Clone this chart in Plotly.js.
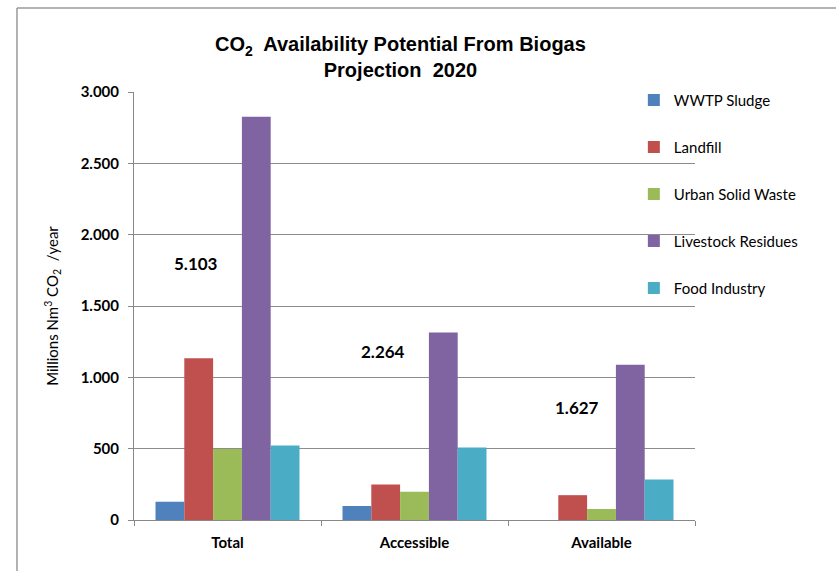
<!DOCTYPE html>
<html>
<head>
<meta charset="utf-8">
<script src="https://cdn.plot.ly/plotly-3.0.1.min.js"></script>
<style>html,body{margin:0;padding:0;background:#fff;}#chart{width:836px;height:571px;}</style>
</head>
<body>
<div id="chart"></div>
<script>
const categories = ["Total", "Accessible", "Available"];
const seriesNames = ["WWTP Sludge", "Landfill", "Urban Solid Waste", "Livestock Residues", "Food Industry"];
const wwtpSludge = [128, 98, 0];
const landfill = [1133, 248, 174];
const urbanSolidWaste = [497, 198, 77];
const livestockResidues = [2826, 1315, 1089];
const foodIndustry = [523, 509, 284];
const totalLabels = ["5.103", "2.264", "1.627"];
const yTickValues = [0, 500, 1000, 1500, 2000, 2500, 3000];
const yTickLabels = ["0", "500", "1.000", "1.500", "2.000", "2.500", "3.000"];

const seriesValues = [wwtpSludge, landfill, urbanSolidWaste, livestockResidues, foodIndustry];
const colors = ["#4F81BD", "#C0504D", "#9BBB59", "#8064A2", "#4BACC6"];

const traces = seriesNames.map((name, i) => ({
  type: "bar",
  name: name,
  x: categories,
  y: seriesValues[i],
  legendgroup: "g" + i,
  marker: {color: colors[i], line: {width: 0}},
  hoverinfo: "name+y"
}));

// total label placement (x as category index offset, y in data units)
const labelX = [-0.17, 0.83, 1.87];
const labelY = [1800, 1180, 790];

const layout = {
  width: 836,
  height: 571,
  paper_bgcolor: "#ffffff",
  plot_bgcolor: "#ffffff",
  margin: {l: 134, r: 141, t: 92, b: 51},
  barmode: "group",
  bargap: 0.23,
  bargroupgap: 0,
  font: {family: "Lato, 'Liberation Sans', sans-serif", color: "#000"},
  title: {
    text: "CO<sub>2</sub>  Availability Potential From Biogas<br>Projection  2020",
    font: {family: "'Liberation Sans', Arial, sans-serif", size: 20, color: "#000", weight: "bold"},
    x: 0.479, xanchor: "center",
    y: 0.91, yanchor: "top"
  },
  xaxis: {
    type: "category",
    tickson: "boundaries",
    ticks: "outside",
    ticklen: 5,
    tickcolor: "#888",
    showline: true,
    linecolor: "#888",
    linewidth: 1,
    showgrid: false,
    tickfont: {family: "Lato, sans-serif", size: 15, color: "#000", weight: "bold"},
    ticklabelstandoff: 9,
    fixedrange: true
  },
  yaxis: {
    range: [0, 3000],
    tickvals: yTickValues,
    ticktext: yTickLabels,
    ticks: "outside",
    ticklen: 5,
    tickcolor: "#888",
    showline: true,
    linecolor: "#888",
    linewidth: 1,
    showgrid: true,
    gridcolor: "#8c8c8c",
    gridwidth: 1,
    zeroline: false,
    tickfont: {family: "Lato, sans-serif", size: 15, color: "#000", weight: "bold"},
    ticklabelstandoff: 6,
    title: {
      text: "Millions Nm<sup>3</sup> CO<sub>2</sub>  /year",
      font: {family: "Lato, sans-serif", size: 15, color: "#000"},
      standoff: 18
    },
    fixedrange: true
  },
  legend: {
    x: 0.891, xanchor: "left",
    y: 1.019, yanchor: "top",
    traceorder: "grouped",
    tracegroupgap: 24.5,
    font: {family: "Lato, sans-serif", size: 15, color: "#000"},
    bgcolor: "rgba(0,0,0,0)",
    itemclick: false, itemdoubleclick: false
  },
  annotations: totalLabels.map((t, i) => ({
    text: t,
    x: labelX[i],
    y: labelY[i],
    xref: "x",
    yref: "y",
    showarrow: false,
    font: {family: "Lato, sans-serif", size: 17, color: "#000", weight: "bold"}
  })),
  shapes: [
    {type: "line", xref: "paper", yref: "paper", x0: -0.2086, x1: -0.2086, y0: 1.1963, y1: -0.13, line: {color: "#9a9a9a", width: 1.5}},
    {type: "line", xref: "paper", yref: "paper", x0: -0.2086, x1: 1.26, y0: 1.1963, y1: 1.1963, line: {color: "#9a9a9a", width: 1.5}}
  ],
  showlegend: true
};

Plotly.newPlot("chart", traces, layout, {displayModeBar: false, staticPlot: true});
</script>
</body>
</html>
